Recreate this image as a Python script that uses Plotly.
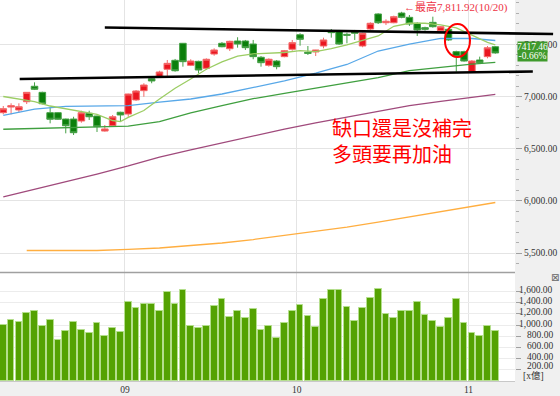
import plotly.graph_objects as go

# ---------------- data ----------------
months = ["09", "10", "11"]
month_first_idx = [16, 38, 60]          # index of first trading day of each month

opens  = [6845, 6899, 6871, 6950, 7098, 7040, 6845, 6845, 6784, 6784,
          6765, 6839, 6813, 6669, 6720, 6849, 6832, 6967, 7056, 7171,
          7190, 7261, 7347, 7510, 7299, 7337, 7270, 7407, 7510, 7458,
          7532, 7532, 7503, 7376, 7299, 7340, 7382, 7453, 7592, 7424,
          7427, 7484, 7631, 7631, 7596, 7631, 7484, 7647, 7791, 7707,
          7707, 7800, 7759, 7702, 7660, 7711, 7631, 7644, 7430, 7430,
          7238, 7350, 7382, 7477]
highs  = [6909, 6935, 6935, 7043, 7136, 7046, 6902, 6850, 6788, 6806,
          6864, 6864, 6815, 6727, 6823, 6854, 7027, 7062, 7127, 7190,
          7247, 7350, 7360, 7513, 7357, 7343, 7366, 7462, 7522, 7535,
          7568, 7542, 7542, 7388, 7366, 7350, 7446, 7542, 7606, 7484,
          7447, 7564, 7647, 7638, 7612, 7638, 7612, 7711, 7798, 7740,
          7775, 7811.92, 7781, 7711, 7669, 7765, 7676, 7654, 7439, 7439,
          7350, 7382, 7484, 7484]
lows   = [6829, 6829, 6845, 6928, 7062, 6925, 6743, 6776, 6647, 6631,
          6749, 6775, 6660, 6663, 6711, 6759, 6806, 6957, 6998, 7127,
          7184, 7197, 7238, 7286, 7292, 7222, 7254, 7391, 7472, 7436,
          7468, 7446, 7357, 7286, 7286, 7261, 7376, 7439, 7487, 7398,
          7388, 7462, 7564, 7494, 7510, 7542, 7472, 7638, 7695, 7685,
          7702, 7750, 7676, 7580, 7631, 7660, 7621, 7535, 7238, 7334,
          7228, 7312, 7366, 7410]
closes = [6883, 6912, 6902, 7040, 7069, 6931, 6782, 6782, 6720, 6653,
          6845, 6806, 6711, 6689, 6806, 6823, 7024, 7053, 7110, 7149,
          7235, 7318, 7247, 7334, 7340, 7254, 7357, 7446, 7477, 7529,
          7503, 7468, 7382, 7324, 7357, 7286, 7439, 7516, 7548, 7414,
          7446, 7542, 7612, 7503, 7587, 7606, 7606, 7702, 7707, 7721,
          7765, 7759, 7695, 7638, 7644, 7669, 7669, 7542, 7382, 7340,
          7340, 7324, 7467, 7417.46]
volumes = [1004, 1082, 1046, 1219, 1254, 980, 1088, 724, 897, 1046,
           909, 861, 1034, 808, 939, 873, 1403, 1308, 1380, 1380,
           1254, 1588, 1380, 1618, 992, 951, 992, 1338, 1469, 1141,
           1243, 1123, 1284, 909, 980, 766, 1034, 1254, 1362, 1165,
           963, 1469, 1618, 1618, 1320, 1070, 1296, 1481, 1642, 1189,
           1123, 1254, 1254, 1403, 1177, 1070, 963, 1123, 1457, 1034,
           855, 802, 992, 885]

ma10_idx = [0, 2, 4, 6, 8, 10, 12, 14, 15, 16, 18, 20, 22, 24, 26, 28, 30, 32,
            34, 36, 38, 40, 42, 44, 46, 48, 50, 52, 54, 56, 58, 60, 62, 63]
ma10 = [7000, 6976, 6952, 6909, 6880, 6856, 6828, 6770, 6760, 6800, 6866, 6976,
        7079, 7168, 7261, 7331, 7388, 7409, 7415, 7422, 7439, 7431, 7459, 7494,
        7537, 7580, 7673, 7702, 7702, 7687, 7657, 7590, 7518, 7494]
ma_idx = [0, 4, 8, 12, 16, 20, 24, 28, 32, 36, 40, 44, 48, 52, 56, 60, 63]
ma20 = [6820, 6880, 6905, 6911, 6913, 6947, 6976, 7024, 7088, 7149, 7223, 7307,
        7436, 7503, 7558, 7556, 7537]
ma60 = [6686, 6695, 6703, 6711, 6717, 6760, 6842, 6912, 6979, 7031, 7080, 7131,
        7181, 7249, 7283, 7310, 7328]
ma120 = [6037, 6109, 6185, 6257, 6334, 6420, 6489, 6557, 6623, 6687, 6748, 6805,
         6861, 6913, 6954, 6991, 7020]
ma240_idx = [3, 8, 12, 16, 20, 24, 28, 32, 36, 40, 44, 48, 52, 56, 60, 63]
ma240 = [5524, 5524, 5524, 5534, 5548, 5572, 5596, 5629, 5668, 5706, 5749, 5797,
         5845, 5893, 5941, 5984]

# hand-drawn support / resistance lines: (index, price) end points
resist_line = [(13.0, 7661), (70.4, 7599)]
support_line = [(2.1, 7168), (67.8, 7240)]
gap_circle = dict(x0=56.55, x1=59.76, y0=7379, y1=7695)

high_idx = 51
high_text = "←最高7,811.92(10/20)"
change_text = "-0.66%"
note_text = "缺口還是沒補完<br>多頭要再加油"

price_ticks = [5500, 6000, 6500, 7000, 7500]
vol_ticks = [200, 400, 600, 800, 1000, 1200, 1400, 1600]

# ---------------- figure ----------------
n = len(closes)
xs = list(range(n))
XMIN, XMAX = -0.42, 65.52
YMIN, YMAX = 5318, 7925
PRICE_DOM = [0.2861, 1.0]


def to_paper_x(i):
    return (i - XMIN) / (XMAX - XMIN)


def to_paper_y(p):
    return PRICE_DOM[0] + (p - YMIN) / (YMAX - YMIN) * (PRICE_DOM[1] - PRICE_DOM[0])


fig = go.Figure()

ma_specs = [
    (ma240_idx, ma240, "#ffae40"),
    (ma_idx, ma120, "#a04a7c"),
    (ma_idx, ma60, "#3f9f3f"),
    (ma_idx, ma20, "#58a8e8"),
    (ma10_idx, ma10, "#9ccd64"),
]
for ix, vals, col in ma_specs:
    fig.add_trace(go.Scatter(x=ix, y=vals, mode="lines", line=dict(color=col, width=1.3),
                             xaxis="x", yaxis="y", hoverinfo="skip"))

fig.add_trace(go.Candlestick(
    x=xs, open=opens, high=highs, low=lows, close=closes,
    increasing=dict(line=dict(color="#f46a6a", width=1), fillcolor="#ea1620"),
    decreasing=dict(line=dict(color="#46a046", width=1), fillcolor="#0b7f0b"),
    whiskerwidth=0, xaxis="x", yaxis="y"))

fig.add_trace(go.Bar(
    x=xs, y=volumes, width=0.86,
    marker=dict(color="#54a202", line=dict(color="#b4de8c", width=1)),
    xaxis="x2", yaxis="y2"))

serif = "Liberation Serif, Noto Sans CJK TC"
tickfont = dict(family=serif, size=9.5, color="#333333")

fig.update_layout(
    template="none",
    width=560, height=396,
    margin=dict(l=0, r=45, t=0, b=15, pad=0, autoexpand=False),
    paper_bgcolor="#f0f0f0", plot_bgcolor="#ffffff",
    showlegend=False,
    boxgap=0.16, boxgroupgap=0,
    bargap=0,
    xaxis=dict(domain=[0, 1], anchor="y", range=[XMIN, XMAX], automargin=False,
               tickvals=[i - 0.43 for i in month_first_idx], showticklabels=False,
               showgrid=True, gridcolor="#e4e4e4", zeroline=False, ticks="",
               showline=False, rangeslider=dict(visible=False)),
    xaxis2=dict(domain=[0, 1], anchor="y2", range=[XMIN, XMAX], matches="x",
                automargin=False,
                tickvals=[i - 0.43 for i in month_first_idx], ticktext=months,
                showgrid=True, gridcolor="#e4e4e4", zeroline=False, ticks="",
                showline=True, linecolor="#c8c8c8", tickfont=tickfont),
    yaxis=dict(domain=PRICE_DOM, anchor="x", side="right", range=[YMIN, YMAX],
               automargin=False, showline=False,
               tickvals=price_ticks, tickformat=",.2f", tickfont=tickfont,
               showgrid=True, gridcolor="#e4e4e4", zeroline=False,
               ticks="outside", ticklen=6, tickcolor="#a0a0a0",
               minor=dict(dtick=100, tick0=5500, ticks="outside", ticklen=3,
                          tickcolor="#b0b0b0", showgrid=False)),
    yaxis2=dict(domain=[0, 0.2835], anchor="x2", side="right", range=[0, 1930],
                automargin=False, showline=False,
                tickvals=vol_ticks, showticklabels=False,
                showgrid=True, gridcolor="#ececec", zeroline=False,
                ticks="outside", ticklen=5, tickcolor="#a0a0a0"),
)

shapes = []
for line in (resist_line, support_line):
    (i0, p0), (i1, p1) = line
    shapes.append(dict(type="line", xref="paper", yref="paper",
                       x0=to_paper_x(i0), x1=to_paper_x(i1),
                       y0=to_paper_y(p0), y1=to_paper_y(p1),
                       line=dict(color="#000000", width=2.6)))
shapes.append(dict(type="circle", xref="x", yref="y", line=dict(color="#ff0000", width=2),
                   **gap_circle))
# panel separator
shapes.append(dict(type="line", xref="paper", yref="paper", x0=0, x1=1, y0=0.2848, y1=0.2848,
                   line=dict(color="#a0a0a0", width=1.5)))
fig.update_layout(shapes=shapes)

# last price box (two stacked green-background labels)
last = closes[-1]
box_green = "#3f9a2c"
ann = []
for txt, shift in ((f"{last:.2f}", 6.25), (change_text, -3.05)):
    ann.append(dict(xref="paper", yref="paper", x=1.0033, y=to_paper_y(last), yshift=shift,
                    xanchor="left", yanchor="middle", width=29, height=9.6, valign="middle",
                    align="center", borderpad=0, bgcolor=box_green,
                    text=txt, showarrow=False,
                    font=dict(family=serif, size=9.5, color="#ffffff")))
ann.append(dict(xref="x", yref="y", x=high_idx, y=highs[high_idx], xanchor="left",
                yanchor="middle", yshift=5,
                text=high_text, showarrow=False,
                font=dict(family=serif, size=11, color="#ee3344")))
ann.append(dict(xref="paper", yref="paper", x=0.6408, y=0.6325, xanchor="left",
                yanchor="middle", text=note_text, showarrow=False, align="left",
                font=dict(family="Noto Sans CJK TC", size=20, color="#ff0000")))
for v in vol_ticks:
    ann.append(dict(xref="paper", yref="y2", x=1.0777, y=v, xanchor="right", yanchor="middle",
                    yshift=4 if v == 200 else 1.5, text=f"{v:,.2f}", showarrow=False,
                    font=tickfont))
ann.append(dict(xref="paper", yref="paper", x=1.0117, y=0.0157, xanchor="left",
                yanchor="middle", text="[x億]", showarrow=False, font=tickfont))
ann.append(dict(xref="paper", yref="paper", x=1.0777, y=0.2717, xanchor="center",
                yanchor="middle", text="⊠", showarrow=False,
                font=dict(family="DejaVu Sans", size=10, color="#666666")))
fig.update_layout(annotations=ann)

fig.write_html("out.html")
